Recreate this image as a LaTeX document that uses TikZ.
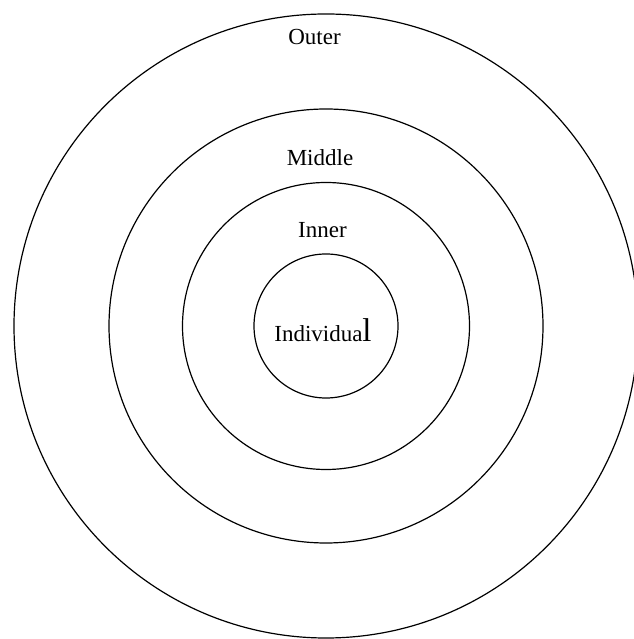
\documentclass[tikz,border=0pt]{standalone}
\usepackage{fontspec}
\setmainfont{Liberation Serif}
\usepackage{tikz}
\usetikzlibrary{positioning}

\tikzset{
  ring/.style={draw, circle, line width=1.2pt, inner sep=0pt, outer sep=0pt},
  tag/.style={anchor=base, font=\fontsize{23}{27}\selectfont}
}

\begin{document}
\begin{tikzpicture}[x=1pt,y=1pt]
  \useasboundingbox (0,0) rectangle (633,639);
  \coordinate (c) at (326,313);
  % the four rings
  \foreach \r/\n in {312/outer, 217/middle, 143.5/inner, 72/indiv} {
    \node[ring, minimum size={2*\r pt}] (\n) at (c) {};
  }
  % labels
  \node[tag] (outerlbl) at (314.5,594) {Outer};
  \node[tag] (middlelbl) at (320,473) {Middle};
  \node[tag] (innerlbl) at (322.5,401) {Inner};
  \node[tag] (indivlbl) at (323,297.5) {Individua{\fontsize{33}{36}\selectfont l}};
\end{tikzpicture}
\end{document}
